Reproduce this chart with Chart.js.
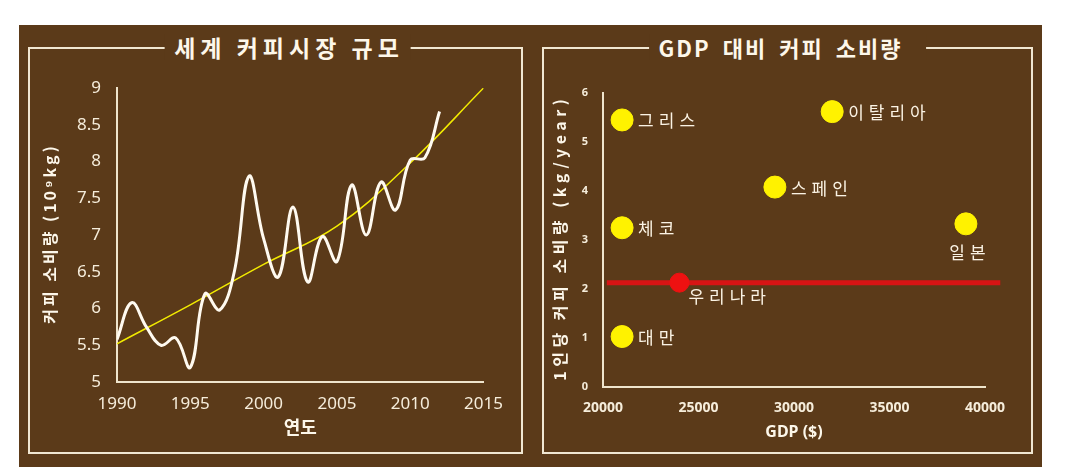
<!DOCTYPE html>
<html>
<head>
<meta charset="utf-8">
<script src="https://cdn.jsdelivr.net/npm/chart.js@4/dist/chart.umd.min.js"></script>
<style>
  body { margin: 0; background: #fff; width: 1080px; height: 475px; position: relative; overflow: hidden; }
  #bg { position: absolute; left: 19px; top: 25px; width: 1023px; height: 442px; background: #5b3a19; }
  .frame { position: absolute; box-sizing: border-box; border: 2px solid #f1e7d2; }
  .ttl { position: absolute; top: -15px; left: 50%; transform: translateX(-50%); background: #5b3a19;
         font: bold 23px "Noto Sans CJK KR", sans-serif; line-height: 26px; color: #fdf7ea;
         white-space: nowrap; }
  canvas { position: absolute; }
</style>
</head>
<body>
<div id="bg"></div>
<div class="frame" style="left:28px;top:47px;width:495px;height:407px">
  <span class="ttl" style="left:calc(50% + 12px);padding:0 7px 0 10px;letter-spacing:5px">세계 커피시장 규모</span>
</div>
<div class="frame" style="left:542px;top:47px;width:491px;height:407px">
  <span class="ttl" style="font-size:22px;padding:0 24px 0 10px;letter-spacing:2px;word-spacing:5px">GDP 대비 커피 소비량</span>
</div>
<canvas id="market" width="485" height="390" style="left:30px;top:60px"></canvas>
<canvas id="gdp" width="486" height="390" style="left:544px;top:60px"></canvas>
<script>
"use strict";
// 세계 커피시장 규모 (10^9 kg)
var years = [1990, 1991, 1992, 1993, 1994, 1995, 1996, 1997, 1998, 1999, 2000, 2001,
             2002, 2003, 2004, 2005, 2006, 2007, 2008, 2009, 2010, 2011, 2012];
var consumption = [5.58, 6.08, 5.75, 5.5, 5.6, 5.2, 6.2, 5.98, 6.5, 7.8, 6.95, 6.43,
                   7.38, 6.36, 6.98, 6.64, 7.68, 7.0, 7.72, 7.34, 8.02, 8.05, 8.68];
var trendYears = [1990, 1995, 2000, 2005, 2010, 2015];
var trendValues = [5.52, 6.05, 6.6, 7.12, 7.98, 9.0];

// GDP 대비 커피 소비량
var countries = ["그리스", "체코", "대만", "스페인", "이탈리아", "일본"];
var gdp = [21000, 21000, 21000, 29000, 32000, 39000];
var perCapita = [5.45, 3.25, 1.03, 4.08, 5.62, 3.33];
var korea = "우리나라";
var koreaGdp = 24000;
var koreaPerCapita = 2.13;
var koreaLineGdp = [20200, 40800];

var cream = "#f6eddb";
var titleColor = "#fdf7ea";
var axisColor = "#efe4cc";
var numFont = '"Noto Sans", sans-serif';
var krFont = '"Noto Sans CJK KR", sans-serif';

// label position per country: right of point or under it
var labelPlace = ["right", "right", "right", "right", "right", "below"];

var pointLabels = {
    id: "pointLabels",
    afterDatasetsDraw: function (chart) {
        var ctx = chart.ctx;
        ctx.save();
        ctx.font = "17px " + krFont;
        ctx.fillStyle = "#fbf3e4";
        ctx.letterSpacing = "5px";
        ctx.textBaseline = "middle";
        chart.data.datasets.forEach(function (ds, di) {
            if (!ds.names) return;
            chart.getDatasetMeta(di).data.forEach(function (pt, i) {
                var place = ds.places[i];
                if (place === "below") {
                    ctx.textAlign = "center";
                    ctx.fillText(ds.names[i], pt.x + 4, pt.y + 29);
                } else if (place === "belowRight") {
                    ctx.textAlign = "left";
                    ctx.fillText(ds.names[i], pt.x + 9, pt.y + 14);
                } else {
                    ctx.textAlign = "left";
                    ctx.fillText(ds.names[i], pt.x + 16, pt.y + 1);
                }
            });
        });
        ctx.restore();
    }
};

// vertical y-axis title with letter spacing (Chart.js titles have none)
function yTitle(text, size, spacing, dx) {
    return {
        id: "yTitle",
        afterDraw: function (chart) {
            var s = chart.scales.y;
            var ctx = chart.ctx;
            ctx.save();
            ctx.translate(s.left + dx, (s.top + s.bottom) / 2);
            ctx.rotate(-Math.PI / 2);
            ctx.font = "bold " + size + "px " + krFont;
            ctx.letterSpacing = spacing + "px";
            ctx.fillStyle = titleColor;
            ctx.textAlign = "center";
            ctx.textBaseline = "middle";
            ctx.fillText(text, spacing / 2, 0);
            ctx.restore();
        }
    };
}

new Chart(document.getElementById("market"), {
    type: "line",
    data: {
        datasets: [{
            data: years.map(function (y, i) { return { x: y, y: consumption[i] }; }),
            borderColor: "#fffaf0",
            borderWidth: 3,
            tension: 0.4,
            pointRadius: 0,
            fill: false
        }, {
            data: trendYears.map(function (y, i) { return { x: y, y: trendValues[i] }; }),
            borderColor: "#f2ea00",
            borderWidth: 1.5,
            tension: 0.4,
            pointRadius: 0,
            fill: false
        }]
    },
    options: {
        responsive: false,
        animation: false,
        layout: { padding: { top: 28, right: 13, left: 0, bottom: 0 } },
        plugins: { legend: { display: false }, tooltip: { enabled: false } },
        scales: {
            x: {
                type: "linear", min: 1990, max: 2015,
                grid: { display: false, drawTicks: false },
                border: { display: true, color: axisColor, width: 2 },
                ticks: { stepSize: 5, padding: 12, color: cream, font: { family: numFont, size: 17 },
                         callback: function (v) { return String(v); } },
                title: { display: true, text: "연도", color: titleColor, padding: { top: 0, bottom: 12 },
                         font: { family: krFont, size: 18, weight: "bold" } },
                afterFit: function (s) { s.height = 68; }
            },
            y: {
                min: 5, max: 9,
                grid: { display: false, drawTicks: false },
                border: { display: true, color: axisColor, width: 2 },
                ticks: { stepSize: 0.5, padding: 16, color: cream, font: { family: numFont, size: 17 },
                         callback: function (v) { return String(v); } },
                afterFit: function (s) { s.width = 87; }
            }
        }
    },
    plugins: [yTitle("커피 소비량 (10⁹kg)", 16, 3, 20)]
});

new Chart(document.getElementById("gdp"), {
    type: "scatter",
    data: {
        datasets: [{
            data: countries.map(function (c, i) { return { x: gdp[i], y: perCapita[i] }; }),
            names: countries,
            places: labelPlace,
            backgroundColor: "#fff200",
            borderColor: "#fff200",
            pointRadius: 11,
            clip: false
        }, {
            data: [{ x: koreaGdp, y: koreaPerCapita }],
            names: [korea],
            places: ["belowRight"],
            backgroundColor: "#ee1111",
            borderColor: "#ee1111",
            pointRadius: 9.5,
            clip: false
        }, {
            data: koreaLineGdp.map(function (g) { return { x: g, y: koreaPerCapita }; }),
            showLine: true,
            borderColor: "#d81414",
            borderWidth: 5,
            pointRadius: 0,
            clip: false
        }]
    },
    options: {
        responsive: false,
        animation: false,
        layout: { padding: { top: 33, right: 45, left: 0, bottom: 0 } },
        plugins: { legend: { display: false }, tooltip: { enabled: false } },
        scales: {
            x: {
                type: "linear", min: 20000, max: 40000,
                grid: { display: false, drawTicks: false },
                border: { display: true, color: axisColor, width: 2 },
                ticks: { stepSize: 5000, padding: 13, color: cream, font: { family: numFont, size: 14, weight: "bold" },
                         callback: function (v) { return String(v); } },
                title: { display: true, text: "GDP ($)", color: titleColor, padding: { top: 0, bottom: 8 },
                         font: { family: numFont, size: 16, weight: "bold" } },
                afterFit: function (s) { s.height = 63; }
            },
            y: {
                min: 0, max: 6,
                grid: { display: false, drawTicks: false },
                border: { display: true, color: axisColor, width: 2 },
                ticks: { stepSize: 1, padding: 15, color: cream, font: { family: numFont, size: 11, weight: "bold" } },
                afterFit: function (s) { s.width = 59; }
            }
        }
    },
    plugins: [pointLabels, yTitle("1인당 커피 소비량 (kg/year)", 16, 4.5, 16)]
});
</script>
</body>
</html>
